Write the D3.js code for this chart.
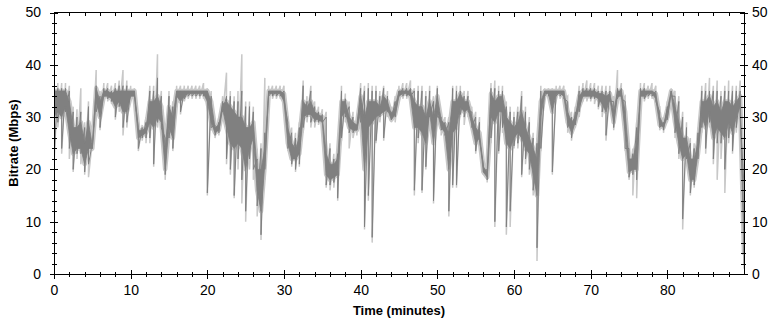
<!DOCTYPE html>
<html>
<head>
<meta charset="utf-8">
<script src="https://d3js.org/d3.v7.min.js"></script>
<style>
  body { margin: 0; background: #fff; }
  svg { display: block; }
  .tick text { font-family: "Liberation Sans", Arial, sans-serif; font-size: 14px; fill: #000; }
  .tick line { stroke: #000; shape-rendering: crispEdges; }
  .title { font-family: "Liberation Sans", Arial, sans-serif; font-size: 13px; font-weight: bold; }
</style>
</head>
<body>
<div id="chart"></div>
<script>
// sampling step of the readings, minutes
var stepMin = 0.5;

// dark series: extremes of each half-minute slot (Mbps)
var darkHi = [
    36, 35.5, 35.5, 35.5, 35, 31, 30, 31, 28, 32,
    25, 36, 34, 35.5, 35.5, 35, 35.5, 36, 36, 36,
    35, 35, 28, 28, 29, 35, 35, 37.5, 34, 26,
    34, 32, 35, 35, 35, 35, 35, 35, 35, 35,
    35, 34, 28.5, 29, 33, 34, 34, 33, 33, 35,
    32, 32, 31, 22, 24, 27, 35, 35, 35, 35,
    35, 29, 27, 26, 28, 36, 33, 35, 32, 31,
    30.5, 30, 24, 22, 23, 35, 33.5, 32, 30, 28.5,
    35.5, 35, 35.5, 35, 35, 34, 35.5, 34, 31, 33,
    35, 35.5, 35.5, 35.5, 35, 35, 35, 34, 35, 33,
    35.5, 30, 29, 29, 35.5, 35, 35, 34, 34, 31,
    30, 29, 21, 20, 35.5, 35.5, 35, 35, 32, 31,
    30, 31, 34, 31, 29, 26, 25, 35, 35, 35,
    35, 35, 35, 35, 33, 30, 31, 35, 35.5, 35.5,
    35.5, 35.5, 35, 35, 35, 35, 33, 35.5, 35.5, 33,
    24, 23, 28, 35.5, 35.5, 35, 35, 35, 31, 29,
    32, 35, 34, 33, 30, 28, 25, 24, 27, 35,
    35, 35, 35, 35, 34, 35, 35, 35, 35, 35,
    17
];
var darkLo = [
    22, 29, 24, 31, 24, 20, 23, 23, 19.5, 21,
    24, 31, 28, 34, 33.5, 33, 30, 32, 28, 29,
    34, 34, 24, 26, 26, 26, 21, 29, 28, 19,
    26, 24, 34, 31, 33.5, 34, 34, 34, 34, 34,
    15.5, 28, 26.5, 27, 31, 22, 20, 15, 22, 18,
    12, 22, 20, 13, 7.5, 20, 34, 34, 34, 34,
    33, 24, 21, 20, 21, 28, 30, 29, 29, 29,
    29, 17, 17, 17.5, 14.5, 26, 30, 27, 27, 27.5,
    29, 9, 15, 7, 25.5, 30, 26, 31, 29.5, 30,
    34, 34, 34, 34, 16, 26, 16, 20.5, 30, 14,
    30, 27.5, 26.5, 12, 17, 17, 30.5, 30, 31, 28,
    23.5, 25.5, 19.5, 18, 26, 10, 23.5, 28, 9, 12,
    24.5, 25, 19, 22, 20, 16, 5, 24, 34, 34,
    19.5, 34, 34, 33.5, 28, 26, 28.5, 31, 34, 34,
    33.5, 33.5, 32, 31, 26.5, 33, 28, 33.5, 33.5, 24,
    18.5, 19, 18, 34, 33.5, 34, 34, 33, 28, 27.5,
    29.5, 34, 27, 23, 10.5, 22, 15.5, 17, 22, 28,
    24, 29, 22, 25, 25, 20, 26, 23.5, 28, 30,
    2
];
// dark series: band where the trace spends most of each slot (Mbps)
var coreHi = [
    35, 35, 35, 35, 33, 28, 28, 29, 25, 29,
    24.5, 35.5, 33, 35, 35, 34.5, 35, 35, 35, 35,
    35, 35, 27.5, 27.5, 28, 33, 33, 34, 32, 24,
    32, 30, 35, 35, 35, 35, 35, 35, 35, 35,
    35, 33, 28, 28.5, 32.5, 33, 32, 31, 30, 30,
    28, 28, 29, 20, 20, 24, 35, 35, 35, 35,
    34.5, 28, 25, 24, 26, 33, 32, 33, 31, 30.5,
    30, 23, 21, 21, 22, 33, 33, 30, 29, 28.5,
    34, 30, 33, 33, 33, 32, 34, 33, 30.5, 32,
    35, 35, 35, 35, 33, 32, 32, 30, 33, 30,
    34, 29.5, 28.5, 27, 33, 33, 34.5, 33, 33, 30,
    28, 27, 20.5, 19.5, 34.5, 33, 34, 34, 30, 29,
    28, 29, 31, 28, 26, 24, 22, 33, 35, 35,
    35, 35, 35, 35, 31, 29, 30, 34, 35, 35,
    35, 35, 34.5, 34.5, 34, 34.5, 31, 35, 35, 31,
    22, 22, 25, 35, 35, 35, 35, 34.5, 30, 28.5,
    31.5, 35, 32, 29, 26, 26, 22, 22, 25, 33,
    33, 34, 32, 33, 31, 33, 33, 32, 33, 34,
    8
];
var coreLo = [
    30, 31, 30, 32, 27, 23, 24, 24, 21, 24,
    24, 33, 30, 34, 34, 33.5, 32, 33, 31, 31,
    34, 34, 26, 26.5, 27, 29, 28, 30, 29, 20,
    28, 26, 34, 33, 34, 34.5, 34.5, 34.5, 34.5, 34.5,
    33, 29, 27, 27.5, 31.5, 28, 25, 24, 25, 24,
    20, 24, 26, 16, 12, 21, 34.5, 34.5, 34.5, 34.5,
    33, 25, 22, 22, 23, 30, 30.5, 30.5, 29.5, 29.5,
    29, 19, 18, 18.5, 19, 30, 31, 28, 27.5, 27.5,
    31, 20, 28, 29, 30, 30.5, 31, 31.5, 29.5, 30.5,
    34, 34.5, 34.5, 34, 28, 28, 27, 25, 31, 25,
    31, 28, 27, 20, 27, 28, 32, 31, 31.5, 28.5,
    25, 26, 19.5, 18.5, 30, 29, 31, 31, 25, 24,
    26, 27, 26, 24, 23, 19, 15, 30, 34.5, 34.5,
    31, 34.5, 34.5, 34, 29, 27, 29, 32, 34, 34,
    34, 34, 33.5, 32.5, 31, 33.5, 29, 34, 34, 27,
    19.5, 20, 20, 34, 34, 34.5, 34.5, 33.5, 28.5, 28,
    30, 34.5, 29, 25, 22, 23, 18, 18, 23, 30,
    28, 31, 26, 28, 27, 26, 29, 27, 30, 32,
    4
];
// light series: peaks and troughs around the dark trace (Mbps)
var lightHi = [
    37, 36.5, 36.5, 36.5, 36, 32, 31.5, 35.5, 29, 33,
    25.5, 39, 35, 36.5, 36.5, 36, 36.5, 37, 39, 37,
    36, 35.5, 29, 28.5, 30, 36, 36, 42, 35, 27,
    35, 33, 36, 36, 36, 36, 36, 36, 36, 36.5,
    35.5, 35, 29, 30, 34, 38.5, 35, 34, 35, 42,
    33, 33, 32, 24, 25, 37.5, 36, 36, 36, 36,
    36, 30, 28, 27, 29, 37, 34, 36, 33, 32,
    31.5, 31, 25, 23, 24, 36, 34.5, 33, 31, 29.5,
    36.5, 36, 36.5, 36, 36, 35, 36, 35, 32, 34,
    36, 36.5, 36.5, 37, 35.5, 36, 36, 35, 36, 34,
    36, 31, 30, 30, 36, 36, 36, 35, 35, 32,
    31, 30, 22, 21, 36.5, 37, 36, 36, 33, 32,
    31, 32, 35, 32, 30, 27, 26, 36, 35.5, 35.5,
    35.5, 36, 36, 36, 34, 31, 32, 36, 36.5, 37,
    36.5, 36.5, 36, 36, 36, 36, 34, 39, 36.5, 34,
    25, 24, 29, 36.5, 36.5, 36, 36.5, 36, 32, 30,
    33, 35.5, 35, 34, 31, 29, 26, 25, 28, 36,
    36.5, 37.5, 36, 37, 35, 36, 37, 36, 36, 37,
    18
];
var lightLo = [
    21, 28, 23, 30, 22, 19.5, 22, 21, 19, 18.5,
    23.5, 30, 27.5, 33, 33, 32.5, 29.5, 31, 26.5, 28,
    33.5, 33.5, 23.5, 25.5, 25, 25, 20.5, 28, 27, 18,
    25, 23.5, 33.5, 30.5, 33, 33.5, 33.5, 33.5, 33.5, 33.5,
    15, 27.5, 26, 26.5, 30, 21, 19, 14.5, 20, 13.5,
    10, 20, 18, 11, 6.5, 18, 33.5, 33.5, 33.5, 33.5,
    32, 23.5, 20.5, 19.5, 20.5, 27, 29, 28, 28, 28.5,
    28, 16.5, 16, 16.5, 14, 25.5, 29, 24, 26, 26.5,
    28, 8.5, 14, 6, 25, 29, 25.5, 30, 29, 29,
    33, 33.5, 33.5, 33, 15, 25, 15.5, 20, 29, 13.5,
    29, 26.5, 26, 11, 16.5, 16.5, 30, 28.5, 30, 27.5,
    23, 25, 19, 17.5, 25, 9, 23, 27, 7.5, 9,
    24, 24, 18.5, 21, 19, 15, 2.5, 23.5, 33.5, 33.5,
    19, 33.5, 33.5, 33, 27, 25.5, 28, 30, 33, 33,
    33, 32.5, 31.5, 30, 25.5, 32.5, 27.5, 32.5, 33, 23.5,
    18, 15, 14.5, 33, 33, 33.5, 33.5, 32, 27.5, 27,
    29, 33.5, 26, 22, 8.5, 21, 15, 16.5, 21.5, 27,
    23, 28, 21, 18, 22, 15.5, 25, 23, 27, 25,
    1
];

var xMajor = [0, 10, 20, 30, 40, 50, 60, 70, 80];
var yMajor = [0, 10, 20, 30, 40, 50];

var W = 774, H = 325;
var pLeft = 54, pRight = 744, pTop = 12.5, pBottom = 274;

var svg = d3.select("#chart").append("svg")
    .attr("width", W)
    .attr("height", H);

var x = d3.scaleLinear().domain([0, 90]).range([pLeft, pRight]);
var y = d3.scaleLinear().domain([0, 50]).range([pBottom, pTop]);

// each slot gives two readings, its top and its bottom, joined in order
function zigzag(hiArr, loArr) {
    var pts = [];
    hiArr.forEach(function (h, i) {
        pts.push([i * stepMin, h]);
        pts.push([i * stepMin, loArr[i]]);
    });
    return pts;
}

var core = coreHi.map(function (d, i) {
    return { t: i * stepMin, hi: d, lo: coreLo[i] };
});

svg.append("clipPath").attr("id", "plot")
    .append("rect")
    .attr("x", pLeft).attr("y", pTop)
    .attr("width", pRight - pLeft).attr("height", pBottom - pTop);

var g = svg.append("g").attr("clip-path", "url(#plot)");

var line = d3.line().x(d => x(d[0])).y(d => y(d[1]));
var band = d3.area().x(d => x(d.t)).y0(d => y(d.lo)).y1(d => y(d.hi));

// light trace: spikes plus a halo round the core
g.append("path")
    .datum(zigzag(lightHi, lightLo))
    .attr("fill", "none")
    .attr("stroke", "#c8c8c8")
    .attr("stroke-width", 1.5)
    .attr("d", line);

g.append("path")
    .datum(core)
    .attr("fill", "#c8c8c8")
    .attr("stroke", "#c8c8c8")
    .attr("stroke-width", 4.5)
    .attr("stroke-linejoin", "round")
    .attr("d", band);

// dark trace: spikes then core
g.append("path")
    .datum(zigzag(darkHi, darkLo))
    .attr("fill", "none")
    .attr("stroke", "#808080")
    .attr("stroke-width", 1)
    .attr("d", line);

g.append("path")
    .datum(core)
    .attr("fill", "#808080")
    .attr("stroke", "#808080")
    .attr("stroke-width", 0.8)
    .attr("stroke-linejoin", "round")
    .attr("d", band);

// minor ticks every 2
var xMinor = d3.range(0, 91, 2).filter(v => v % 10 != 0);
var yMinor = d3.range(0, 51, 2).filter(v => v % 10 != 0);

function noDomain(sel) { sel.select(".domain").remove(); }

// left
svg.append("g").attr("transform", "translate(58,0)")
    .call(d3.axisLeft(y).tickValues(yMajor).tickSize(8).tickPadding(9))
    .call(noDomain);
svg.append("g").attr("transform", "translate(57,0)")
    .call(d3.axisLeft(y).tickValues(yMinor).tickSize(5).tickFormat(""))
    .call(noDomain);
// right
svg.append("g").attr("transform", "translate(740,0)")
    .call(d3.axisRight(y).tickValues(yMajor).tickSize(8).tickPadding(4))
    .call(noDomain);
svg.append("g").attr("transform", "translate(741,0)")
    .call(d3.axisRight(y).tickValues(yMinor).tickSize(5).tickFormat(""))
    .call(noDomain);
// bottom
svg.append("g").attr("transform", "translate(0,270)")
    .call(d3.axisBottom(x).tickValues(xMajor).tickSize(9).tickPadding(6))
    .call(noDomain);
svg.append("g").attr("transform", "translate(0,272)")
    .call(d3.axisBottom(x).tickValues(xMinor).tickSize(5).tickFormat(""))
    .call(noDomain);
// top, ticks pointing in
svg.append("g").attr("transform", "translate(0," + pTop + ")")
    .call(d3.axisBottom(x).tickValues(xMajor).tickSize(4).tickFormat(""))
    .call(noDomain);
svg.append("g").attr("transform", "translate(0," + pTop + ")")
    .call(d3.axisBottom(x).tickValues(xMinor).tickSize(3).tickFormat(""))
    .call(noDomain);

// frame
svg.append("rect")
    .attr("x", pLeft).attr("y", pTop)
    .attr("width", pRight - pLeft).attr("height", pBottom - pTop)
    .attr("fill", "none")
    .attr("stroke", "#000")
    .attr("shape-rendering", "crispEdges");

svg.append("text").attr("class", "title")
    .attr("x", 399).attr("y", 315)
    .attr("text-anchor", "middle")
    .text("Time (minutes)");

svg.append("text").attr("class", "title")
    .attr("transform", "translate(18,143) rotate(-90)")
    .attr("text-anchor", "middle")
    .text("Bitrate (Mbps)");
</script>
</body>
</html>
